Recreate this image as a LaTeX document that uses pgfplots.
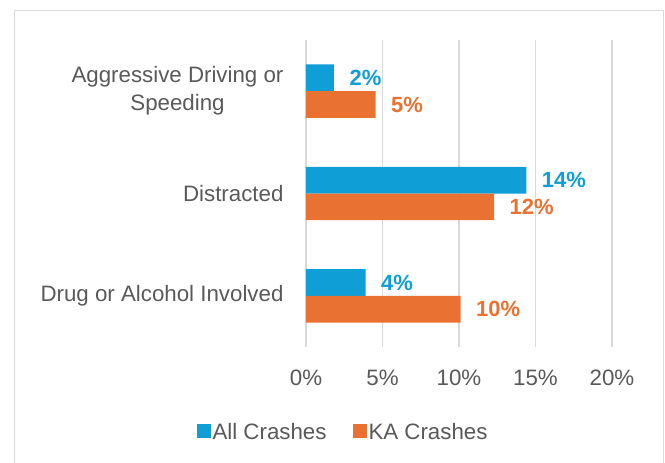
\documentclass[border=0pt]{standalone}
\usepackage{pgfplots}
\pgfplotsset{compat=1.18}
\usepackage{fontspec}
\setmainfont{Liberation Sans}
\definecolor{allc}{HTML}{0F9ED5}
\definecolor{kac}{HTML}{E97132}
\definecolor{txt}{HTML}{595959}
\definecolor{grd}{HTML}{D9D9D9}

\begin{document}
\begin{tikzpicture}
% page = 665 x 463 (1pt = 1px), axis box south west at (0,0)
\useasboundingbox (-306pt,-116pt) rectangle (359pt,347pt);
\draw[grd, line width=1.5pt] (-291.5pt,-130pt) rectangle (357.5pt,336.5pt);
\begin{axis}[
  at={(0pt,0pt)}, anchor=south west,
  scale only axis, width=306pt, height=307pt,
  xbar, bar width=26.7pt,
  xmin=0, xmax=20, ymin=-0.5, ymax=2.5, y dir=reverse,
  axis line style={draw=none},
  major tick length=0pt,
  xmajorgrids, grid style={grd, line width=1.3pt},
  xtick={0,5,10,15,20},
  xticklabel={\pgfmathprintnumber[assume math mode=true]{\tick}\%},
  xticklabel style={text=txt, yshift=-19pt},
  ytick={0,1,2},
  yticklabels={{Aggressive Driving or\\Speeding},{Distracted},{Drug or Alcohol Involved}},
  yticklabel style={align=center, text=txt, xshift=-19pt},
  every tick label/.append style={font=\fontsize{22.3}{28}\selectfont},
  point meta=x,
  nodes near coords={\pgfmathprintnumber[fixed,precision=0,assume math mode=true]{\pgfplotspointmeta}\%},
  nodes near coords style={anchor=west, xshift=12pt, font=\fontsize{22}{26}\selectfont\bfseries},
  legend style={at={(0.121,-0.277)}, anchor=center, draw=none,
    legend columns=2, font=\fontsize{22.3}{26}\selectfont, text=txt,
    /tikz/every even column/.append style={column sep=24pt}},
  legend image code/.code={\fill[#1] (0pt,-6pt) rectangle (14pt,8pt);},
]
\addplot[fill=allc, draw=none, bar shift=13.35pt, nodes near coords style={text=allc}]
  coordinates {(1.83,0) (14.4,1) (3.9,2)};
\addlegendentry{All Crashes}
\addplot[fill=kac, draw=none, bar shift=-13.35pt, nodes near coords style={text=kac}]
  coordinates {(4.55,0) (12.3,1) (10.1,2)};
\addlegendentry{KA Crashes}
\end{axis}
\end{tikzpicture}
\end{document}
